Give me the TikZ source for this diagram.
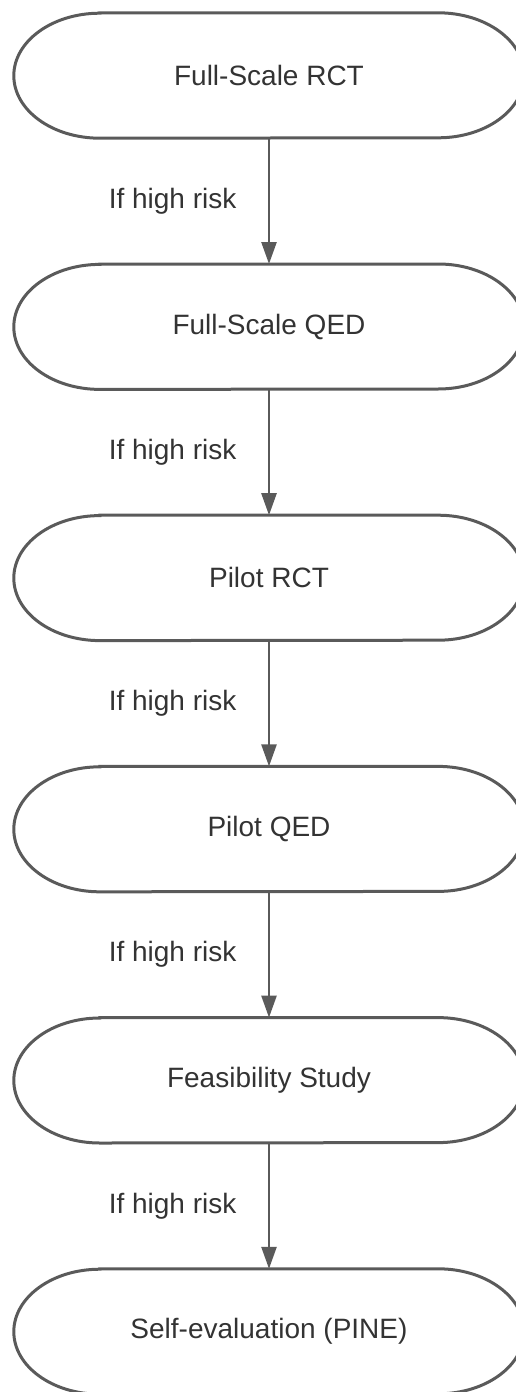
\documentclass[tikz,border=0pt]{standalone}
\usepackage{fontspec}
\setmainfont{Liberation Sans}
\usetikzlibrary{arrows.meta,positioning}
\definecolor{linegray}{HTML}{5A5A5A}
\definecolor{textgray}{HTML}{333333}

\begin{document}
\begin{tikzpicture}[x=1pt,y=-1pt,->,>={Triangle[length=22pt,width=15pt]},node distance=251.2pt,
  main node/.style={minimum width=510pt,minimum height=125pt,inner sep=0pt,text=textgray,font=\fontsize{28}{33}\selectfont},
  outline/.style={-,draw=linegray,line width=3pt}]
  \useasboundingbox (0,0) rectangle (515,1392);

  \node[main node] (1) at (269,75.5) {Full-Scale RCT};
  \node[main node] (2) [below of=1] {Full-Scale QED};
  \node[main node] (3) [below of=2] {Pilot RCT};
  \node[main node] (4) [below of=3] {Pilot QED};
  \node[main node] (5) [below of=4] {Feasibility Study};
  \node[main node] (6) [below of=5] {Self-evaluation (PINE)};

  % stadium outlines
  \foreach \n in {1,...,6}
    \draw[outline] ([xshift=86pt]\n.north west) -- ([xshift=-86pt]\n.north east)
      arc[start angle=90,end angle=-90,x radius=86pt,y radius=62.5pt]
      -- ([xshift=86pt]\n.south west)
      arc[start angle=270,end angle=90,x radius=86pt,y radius=62.5pt] -- cycle;

  \path[every edge/.style={draw=linegray,line width=2.5pt},
        every node/.style={left=28pt,text=textgray,font=\fontsize{28}{33}\selectfont}]
    (1) edge node {If high risk} (2)
    (2) edge node {If high risk} (3)
    (3) edge node {If high risk} (4)
    (4) edge node {If high risk} (5)
    (5) edge node {If high risk} (6)
    ;

\end{tikzpicture}
\end{document}
